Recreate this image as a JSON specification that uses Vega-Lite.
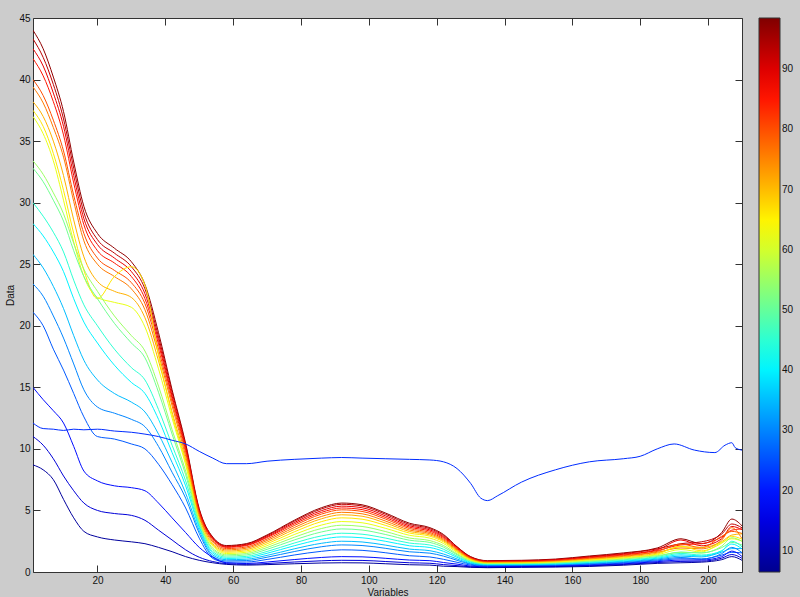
{
"$schema": "https://vega.github.io/schema/vega-lite/v6.json",
"width": 709, "height": 554,
"autosize": {"type": "none"},
"padding": {"left": 33, "top": 18, "right": 58, "bottom": 25},
"background": "#cccccc",
"view": {"fill": "white", "stroke": null},
"config": {
 "font": "Liberation Sans",
 "axis": {"grid": false, "domainColor": "#333333", "tickColor": "#333333", "tickSize": -7, "labelPadding": 10, "labelFontSize": 10, "labelColor": "#111111", "titleFontSize": 10, "titleFontWeight": "normal", "titleColor": "#111111"}
},
"data": {"values": [
{"v":97,"x":1,"y":44.0},{"v":97,"x":4,"y":42.5},{"v":97,"x":7,"y":40.2},{"v":97,"x":10,"y":37.4},{"v":97,"x":13,"y":33.3},{"v":97,"x":16,"y":29.7},{"v":97,"x":20,"y":27.5},{"v":97,"x":25,"y":26.3},{"v":97,"x":30,"y":25.2},{"v":97,"x":34,"y":23.35},{"v":97,"x":38,"y":19.44},{"v":97,"x":42,"y":14.8},{"v":97,"x":46,"y":10.45},{"v":97,"x":50,"y":5.15},{"v":97,"x":54,"y":2.84},{"v":97,"x":58,"y":2.15},{"v":97,"x":64,"y":2.31},{"v":97,"x":70,"y":3.01},{"v":97,"x":78,"y":4.2},{"v":97,"x":86,"y":5.22},{"v":97,"x":92,"y":5.6},{"v":97,"x":98,"y":5.46},{"v":97,"x":105,"y":4.78},{"v":97,"x":112,"y":3.96},{"v":97,"x":118,"y":3.6},{"v":97,"x":122,"y":3.05},{"v":97,"x":126,"y":2.05},{"v":97,"x":130,"y":1.25},{"v":97,"x":135,"y":0.92},{"v":97,"x":145,"y":0.95},{"v":97,"x":155,"y":1.05},{"v":97,"x":165,"y":1.3},{"v":97,"x":175,"y":1.55},{"v":97,"x":185,"y":1.95},{"v":97,"x":192,"y":2.7},{"v":97,"x":198,"y":2.3},{"v":97,"x":204,"y":3.2},{"v":97,"x":207,"y":4.3},{"v":97,"x":210,"y":3.75},
{"v":93,"x":1,"y":43.3},{"v":93,"x":4,"y":41.8},{"v":93,"x":7,"y":39.6},{"v":93,"x":10,"y":36.8},{"v":93,"x":13,"y":32.8},{"v":93,"x":16,"y":29.2},{"v":93,"x":20,"y":27.0},{"v":93,"x":25,"y":25.9},{"v":93,"x":30,"y":24.8},{"v":93,"x":34,"y":23.0},{"v":93,"x":38,"y":19.1},{"v":93,"x":42,"y":14.6},{"v":93,"x":46,"y":10.3},{"v":93,"x":50,"y":5.05},{"v":93,"x":54,"y":2.78},{"v":93,"x":58,"y":2.1},{"v":93,"x":64,"y":2.26},{"v":93,"x":70,"y":2.95},{"v":93,"x":78,"y":4.12},{"v":93,"x":86,"y":5.12},{"v":93,"x":92,"y":5.5},{"v":93,"x":98,"y":5.36},{"v":93,"x":105,"y":4.68},{"v":93,"x":112,"y":3.86},{"v":93,"x":118,"y":3.52},{"v":93,"x":122,"y":2.97},{"v":93,"x":126,"y":2.04},{"v":93,"x":130,"y":1.22},{"v":93,"x":135,"y":0.89},{"v":93,"x":145,"y":0.92},{"v":93,"x":155,"y":1.01},{"v":93,"x":165,"y":1.25},{"v":93,"x":175,"y":1.49},{"v":93,"x":185,"y":1.88},{"v":93,"x":192,"y":2.3},{"v":93,"x":198,"y":2.45},{"v":93,"x":204,"y":3.08},{"v":93,"x":207,"y":3.9},{"v":93,"x":210,"y":3.59},
{"v":89,"x":1,"y":42.5},{"v":89,"x":4,"y":41.1},{"v":89,"x":7,"y":38.9},{"v":89,"x":10,"y":36.2},{"v":89,"x":13,"y":32.2},{"v":89,"x":16,"y":28.7},{"v":89,"x":20,"y":26.6},{"v":89,"x":25,"y":25.5},{"v":89,"x":30,"y":24.4},{"v":89,"x":34,"y":22.6},{"v":89,"x":38,"y":18.8},{"v":89,"x":42,"y":14.3},{"v":89,"x":46,"y":10.1},{"v":89,"x":50,"y":4.96},{"v":89,"x":54,"y":2.72},{"v":89,"x":58,"y":2.05},{"v":89,"x":64,"y":2.2},{"v":89,"x":70,"y":2.87},{"v":89,"x":78,"y":4.01},{"v":89,"x":86,"y":4.98},{"v":89,"x":92,"y":5.35},{"v":89,"x":98,"y":5.22},{"v":89,"x":105,"y":4.55},{"v":89,"x":112,"y":3.75},{"v":89,"x":118,"y":3.42},{"v":89,"x":122,"y":2.88},{"v":89,"x":126,"y":1.98},{"v":89,"x":130,"y":1.18},{"v":89,"x":135,"y":0.86},{"v":89,"x":145,"y":0.89},{"v":89,"x":155,"y":0.98},{"v":89,"x":165,"y":1.21},{"v":89,"x":175,"y":1.44},{"v":89,"x":185,"y":1.81},{"v":89,"x":192,"y":2.6},{"v":89,"x":198,"y":2.13},{"v":89,"x":204,"y":2.7},{"v":89,"x":207,"y":3.7},{"v":89,"x":210,"y":3.44},
{"v":85,"x":1,"y":41.7},{"v":85,"x":4,"y":40.3},{"v":85,"x":7,"y":38.2},{"v":85,"x":10,"y":35.5},{"v":85,"x":13,"y":31.6},{"v":85,"x":16,"y":28.2},{"v":85,"x":20,"y":26.1},{"v":85,"x":25,"y":25.1},{"v":85,"x":30,"y":24.0},{"v":85,"x":34,"y":22.2},{"v":85,"x":38,"y":18.5},{"v":85,"x":42,"y":14.1},{"v":85,"x":46,"y":9.9},{"v":85,"x":50,"y":4.86},{"v":85,"x":54,"y":2.66},{"v":85,"x":58,"y":2.0},{"v":85,"x":64,"y":2.15},{"v":85,"x":70,"y":2.8},{"v":85,"x":78,"y":3.9},{"v":85,"x":86,"y":4.84},{"v":85,"x":92,"y":5.2},{"v":85,"x":98,"y":5.07},{"v":85,"x":105,"y":4.42},{"v":85,"x":112,"y":3.64},{"v":85,"x":118,"y":3.32},{"v":85,"x":122,"y":2.8},{"v":85,"x":126,"y":1.92},{"v":85,"x":130,"y":1.14},{"v":85,"x":135,"y":0.83},{"v":85,"x":145,"y":0.85},{"v":85,"x":155,"y":0.94},{"v":85,"x":165,"y":1.16},{"v":85,"x":175,"y":1.38},{"v":85,"x":185,"y":1.74},{"v":85,"x":192,"y":2.2},{"v":85,"x":198,"y":2.3},{"v":85,"x":204,"y":2.83},{"v":85,"x":207,"y":3.4},{"v":85,"x":210,"y":3.5},
{"v":80,"x":1,"y":40.0},{"v":80,"x":4,"y":38.7},{"v":80,"x":7,"y":36.7},{"v":80,"x":10,"y":34.2},{"v":80,"x":13,"y":30.6},{"v":80,"x":16,"y":27.5},{"v":80,"x":20,"y":25.5},{"v":80,"x":25,"y":24.5},{"v":80,"x":30,"y":23.5},{"v":80,"x":34,"y":21.8},{"v":80,"x":38,"y":18.1},{"v":80,"x":42,"y":13.8},{"v":80,"x":46,"y":9.7},{"v":80,"x":50,"y":4.7},{"v":80,"x":54,"y":2.55},{"v":80,"x":58,"y":1.9},{"v":80,"x":64,"y":2.04},{"v":80,"x":70,"y":2.68},{"v":80,"x":78,"y":3.77},{"v":80,"x":86,"y":4.7},{"v":80,"x":92,"y":5.05},{"v":80,"x":98,"y":4.92},{"v":80,"x":105,"y":4.29},{"v":80,"x":112,"y":3.53},{"v":80,"x":118,"y":3.21},{"v":80,"x":122,"y":2.71},{"v":80,"x":126,"y":1.86},{"v":80,"x":130,"y":1.11},{"v":80,"x":135,"y":0.8},{"v":80,"x":145,"y":0.82},{"v":80,"x":155,"y":0.91},{"v":80,"x":165,"y":1.11},{"v":80,"x":175,"y":1.33},{"v":80,"x":185,"y":1.67},{"v":80,"x":192,"y":2.27},{"v":80,"x":198,"y":1.97},{"v":80,"x":204,"y":2.9},{"v":80,"x":207,"y":3.3},{"v":80,"x":210,"y":3.13},
{"v":76,"x":1,"y":39.4},{"v":76,"x":4,"y":38.1},{"v":76,"x":7,"y":36.1},{"v":76,"x":10,"y":33.7},{"v":76,"x":13,"y":30.1},{"v":76,"x":16,"y":26.9},{"v":76,"x":20,"y":25.0},{"v":76,"x":25,"y":24.0},{"v":76,"x":30,"y":23.0},{"v":76,"x":34,"y":21.3},{"v":76,"x":38,"y":17.7},{"v":76,"x":42,"y":13.5},{"v":76,"x":46,"y":9.4},{"v":76,"x":50,"y":4.56},{"v":76,"x":54,"y":2.44},{"v":76,"x":58,"y":1.8},{"v":76,"x":64,"y":1.94},{"v":76,"x":70,"y":2.56},{"v":76,"x":78,"y":3.61},{"v":76,"x":86,"y":4.51},{"v":76,"x":92,"y":4.85},{"v":76,"x":98,"y":4.73},{"v":76,"x":105,"y":4.13},{"v":76,"x":112,"y":3.41},{"v":76,"x":118,"y":3.11},{"v":76,"x":122,"y":2.62},{"v":76,"x":126,"y":1.8},{"v":76,"x":130,"y":1.07},{"v":76,"x":135,"y":0.77},{"v":76,"x":145,"y":0.79},{"v":76,"x":155,"y":0.87},{"v":76,"x":165,"y":1.06},{"v":76,"x":175,"y":1.27},{"v":76,"x":185,"y":1.6},{"v":76,"x":192,"y":1.95},{"v":76,"x":198,"y":1.88},{"v":76,"x":204,"y":2.59},{"v":76,"x":207,"y":3.6},{"v":76,"x":210,"y":2.7},
{"v":71,"x":1,"y":38.2},{"v":71,"x":4,"y":37.0},{"v":71,"x":7,"y":35.0},{"v":71,"x":10,"y":32.2},{"v":71,"x":13,"y":28.6},{"v":71,"x":16,"y":25.6},{"v":71,"x":20,"y":23.6},{"v":71,"x":25,"y":22.8},{"v":71,"x":30,"y":22.3},{"v":71,"x":34,"y":20.65},{"v":71,"x":38,"y":17.15},{"v":71,"x":42,"y":13.0},{"v":71,"x":46,"y":9.1},{"v":71,"x":50,"y":4.4},{"v":71,"x":54,"y":2.3},{"v":71,"x":58,"y":1.7},{"v":71,"x":64,"y":1.83},{"v":71,"x":70,"y":2.43},{"v":71,"x":78,"y":3.45},{"v":71,"x":86,"y":4.32},{"v":71,"x":92,"y":4.65},{"v":71,"x":98,"y":4.53},{"v":71,"x":105,"y":3.97},{"v":71,"x":112,"y":3.29},{"v":71,"x":118,"y":3.01},{"v":71,"x":122,"y":2.54},{"v":71,"x":126,"y":1.73},{"v":71,"x":130,"y":1.03},{"v":71,"x":135,"y":0.74},{"v":71,"x":145,"y":0.76},{"v":71,"x":155,"y":0.83},{"v":71,"x":165,"y":1.02},{"v":71,"x":175,"y":1.22},{"v":71,"x":185,"y":1.53},{"v":71,"x":192,"y":2.05},{"v":71,"x":198,"y":2.0},{"v":71,"x":204,"y":2.47},{"v":71,"x":207,"y":3.0},{"v":71,"x":210,"y":3.1},
{"v":66,"x":1,"y":37.5},{"v":66,"x":4,"y":36.2},{"v":66,"x":7,"y":34.0},{"v":66,"x":10,"y":31.0},{"v":66,"x":13,"y":27.5},{"v":66,"x":16,"y":24.5},{"v":66,"x":20,"y":22.2},{"v":66,"x":25,"y":24.0},{"v":66,"x":30,"y":24.8},{"v":66,"x":34,"y":23.3},{"v":66,"x":38,"y":17.6},{"v":66,"x":42,"y":12.8},{"v":66,"x":46,"y":8.9},{"v":66,"x":50,"y":4.2},{"v":66,"x":54,"y":2.2},{"v":66,"x":58,"y":1.6},{"v":66,"x":64,"y":1.72},{"v":66,"x":70,"y":2.29},{"v":66,"x":78,"y":3.26},{"v":66,"x":86,"y":4.09},{"v":66,"x":92,"y":4.4},{"v":66,"x":98,"y":4.29},{"v":66,"x":105,"y":3.78},{"v":66,"x":112,"y":3.16},{"v":66,"x":118,"y":2.91},{"v":66,"x":122,"y":2.45},{"v":66,"x":126,"y":1.67},{"v":66,"x":130,"y":0.99},{"v":66,"x":135,"y":0.71},{"v":66,"x":145,"y":0.73},{"v":66,"x":155,"y":0.8},{"v":66,"x":165,"y":0.97},{"v":66,"x":175,"y":1.16},{"v":66,"x":185,"y":1.46},{"v":66,"x":192,"y":2.1},{"v":66,"x":198,"y":1.72},{"v":66,"x":204,"y":2.34},{"v":66,"x":207,"y":2.9},{"v":66,"x":210,"y":2.66},
{"v":62,"x":1,"y":37.0},{"v":62,"x":4,"y":35.6},{"v":62,"x":7,"y":33.4},{"v":62,"x":10,"y":30.2},{"v":62,"x":13,"y":26.8},{"v":62,"x":16,"y":24.0},{"v":62,"x":20,"y":22.3},{"v":62,"x":25,"y":21.9},{"v":62,"x":30,"y":21.5},{"v":62,"x":34,"y":19.9},{"v":62,"x":38,"y":16.5},{"v":62,"x":42,"y":12.5},{"v":62,"x":46,"y":8.7},{"v":62,"x":50,"y":4.1},{"v":62,"x":54,"y":2.1},{"v":62,"x":58,"y":1.5},{"v":62,"x":64,"y":1.61},{"v":62,"x":70,"y":2.14},{"v":62,"x":78,"y":3.04},{"v":62,"x":86,"y":3.81},{"v":62,"x":92,"y":4.1},{"v":62,"x":98,"y":4.0},{"v":62,"x":105,"y":3.54},{"v":62,"x":112,"y":2.98},{"v":62,"x":118,"y":2.75},{"v":62,"x":122,"y":2.32},{"v":62,"x":126,"y":1.59},{"v":62,"x":130,"y":0.94},{"v":62,"x":135,"y":0.68},{"v":62,"x":145,"y":0.7},{"v":62,"x":155,"y":0.76},{"v":62,"x":165,"y":0.92},{"v":62,"x":175,"y":1.11},{"v":62,"x":185,"y":1.4},{"v":62,"x":192,"y":1.83},{"v":62,"x":198,"y":1.63},{"v":62,"x":204,"y":2.4},{"v":62,"x":207,"y":2.7},{"v":62,"x":210,"y":2.51},
{"v":55,"x":1,"y":33.4},{"v":55,"x":4,"y":32.3},{"v":55,"x":7,"y":30.8},{"v":55,"x":10,"y":29.1},{"v":55,"x":13,"y":26.7},{"v":55,"x":16,"y":24.6},{"v":55,"x":20,"y":22.8},{"v":55,"x":25,"y":20.8},{"v":55,"x":30,"y":19.2},{"v":55,"x":34,"y":17.95},{"v":55,"x":38,"y":15.1},{"v":55,"x":42,"y":11.55},{"v":55,"x":46,"y":8.2},{"v":55,"x":50,"y":4.1},{"v":55,"x":54,"y":1.93},{"v":55,"x":58,"y":1.4},{"v":55,"x":64,"y":1.5},{"v":55,"x":70,"y":1.99},{"v":55,"x":78,"y":2.82},{"v":55,"x":86,"y":3.53},{"v":55,"x":92,"y":3.8},{"v":55,"x":98,"y":3.7},{"v":55,"x":105,"y":3.28},{"v":55,"x":112,"y":2.76},{"v":55,"x":118,"y":2.55},{"v":55,"x":122,"y":2.15},{"v":55,"x":126,"y":1.48},{"v":55,"x":130,"y":0.89},{"v":55,"x":135,"y":0.65},{"v":55,"x":145,"y":0.67},{"v":55,"x":155,"y":0.73},{"v":55,"x":165,"y":0.88},{"v":55,"x":175,"y":1.05},{"v":55,"x":185,"y":1.33},{"v":55,"x":192,"y":1.6},{"v":55,"x":198,"y":1.55},{"v":55,"x":204,"y":2.1},{"v":55,"x":207,"y":2.78},{"v":55,"x":210,"y":2.5},
{"v":51,"x":1,"y":32.8},{"v":51,"x":4,"y":31.7},{"v":51,"x":7,"y":30.2},{"v":51,"x":10,"y":28.5},{"v":51,"x":13,"y":26.1},{"v":51,"x":16,"y":24.0},{"v":51,"x":20,"y":22.2},{"v":51,"x":25,"y":20.2},{"v":51,"x":30,"y":18.6},{"v":51,"x":34,"y":17.4},{"v":51,"x":38,"y":14.6},{"v":51,"x":42,"y":11.2},{"v":51,"x":46,"y":7.9},{"v":51,"x":50,"y":3.9},{"v":51,"x":54,"y":1.82},{"v":51,"x":58,"y":1.3},{"v":51,"x":64,"y":1.39},{"v":51,"x":70,"y":1.84},{"v":51,"x":78,"y":2.6},{"v":51,"x":86,"y":3.25},{"v":51,"x":92,"y":3.5},{"v":51,"x":98,"y":3.41},{"v":51,"x":105,"y":3.04},{"v":51,"x":112,"y":2.58},{"v":51,"x":118,"y":2.4},{"v":51,"x":122,"y":2.02},{"v":51,"x":126,"y":1.4},{"v":51,"x":130,"y":0.84},{"v":51,"x":135,"y":0.62},{"v":51,"x":145,"y":0.63},{"v":51,"x":155,"y":0.69},{"v":51,"x":165,"y":0.83},{"v":51,"x":175,"y":0.99},{"v":51,"x":185,"y":1.26},{"v":51,"x":192,"y":1.62},{"v":51,"x":198,"y":1.55},{"v":51,"x":204,"y":1.98},{"v":51,"x":207,"y":2.4},{"v":51,"x":210,"y":2.19},
{"v":45,"x":1,"y":30.0},{"v":45,"x":4,"y":28.9},{"v":45,"x":7,"y":27.6},{"v":45,"x":10,"y":26.0},{"v":45,"x":13,"y":23.7},{"v":45,"x":16,"y":21.7},{"v":45,"x":20,"y":20.0},{"v":45,"x":25,"y":18.1},{"v":45,"x":30,"y":16.6},{"v":45,"x":34,"y":15.6},{"v":45,"x":38,"y":13.2},{"v":45,"x":42,"y":10.3},{"v":45,"x":46,"y":7.4},{"v":45,"x":50,"y":3.74},{"v":45,"x":54,"y":1.66},{"v":45,"x":58,"y":1.2},{"v":45,"x":64,"y":1.27},{"v":45,"x":70,"y":1.67},{"v":45,"x":78,"y":2.35},{"v":45,"x":86,"y":2.93},{"v":45,"x":92,"y":3.15},{"v":45,"x":98,"y":3.07},{"v":45,"x":105,"y":2.75},{"v":45,"x":112,"y":2.35},{"v":45,"x":118,"y":2.19},{"v":45,"x":122,"y":1.85},{"v":45,"x":126,"y":1.29},{"v":45,"x":130,"y":0.79},{"v":45,"x":135,"y":0.59},{"v":45,"x":145,"y":0.6},{"v":45,"x":155,"y":0.65},{"v":45,"x":165,"y":0.78},{"v":45,"x":175,"y":0.94},{"v":45,"x":185,"y":1.19},{"v":45,"x":192,"y":1.51},{"v":45,"x":198,"y":1.38},{"v":45,"x":204,"y":1.7},{"v":45,"x":207,"y":2.5},{"v":45,"x":210,"y":2.04},
{"v":40,"x":1,"y":28.3},{"v":40,"x":4,"y":27.3},{"v":40,"x":7,"y":26.0},{"v":40,"x":10,"y":24.4},{"v":40,"x":13,"y":22.2},{"v":40,"x":16,"y":20.3},{"v":40,"x":20,"y":18.6},{"v":40,"x":25,"y":16.8},{"v":40,"x":30,"y":15.4},{"v":40,"x":34,"y":14.5},{"v":40,"x":38,"y":12.4},{"v":40,"x":42,"y":9.7},{"v":40,"x":46,"y":7.0},{"v":40,"x":50,"y":3.6},{"v":40,"x":54,"y":1.53},{"v":40,"x":58,"y":1.1},{"v":40,"x":64,"y":1.16},{"v":40,"x":70,"y":1.52},{"v":40,"x":78,"y":2.13},{"v":40,"x":86,"y":2.65},{"v":40,"x":92,"y":2.85},{"v":40,"x":98,"y":2.78},{"v":40,"x":105,"y":2.49},{"v":40,"x":112,"y":2.13},{"v":40,"x":118,"y":1.99},{"v":40,"x":122,"y":1.68},{"v":40,"x":126,"y":1.19},{"v":40,"x":130,"y":0.74},{"v":40,"x":135,"y":0.56},{"v":40,"x":145,"y":0.57},{"v":40,"x":155,"y":0.62},{"v":40,"x":165,"y":0.73},{"v":40,"x":175,"y":0.88},{"v":40,"x":185,"y":1.12},{"v":40,"x":192,"y":1.4},{"v":40,"x":198,"y":1.3},{"v":40,"x":204,"y":1.73},{"v":40,"x":207,"y":2.27},{"v":40,"x":210,"y":1.88},
{"v":35,"x":1,"y":25.8},{"v":35,"x":4,"y":24.7},{"v":35,"x":7,"y":23.2},{"v":35,"x":10,"y":21.4},{"v":35,"x":13,"y":19.2},{"v":35,"x":16,"y":17.2},{"v":35,"x":20,"y":15.6},{"v":35,"x":25,"y":14.5},{"v":35,"x":30,"y":13.8},{"v":35,"x":34,"y":13.0},{"v":35,"x":38,"y":11.2},{"v":35,"x":42,"y":8.9},{"v":35,"x":46,"y":6.4},{"v":35,"x":50,"y":3.37},{"v":35,"x":54,"y":1.38},{"v":35,"x":58,"y":1.0},{"v":35,"x":64,"y":1.04},{"v":35,"x":70,"y":1.35},{"v":35,"x":78,"y":1.88},{"v":35,"x":86,"y":2.33},{"v":35,"x":92,"y":2.5},{"v":35,"x":98,"y":2.44},{"v":35,"x":105,"y":2.18},{"v":35,"x":112,"y":1.86},{"v":35,"x":118,"y":1.73},{"v":35,"x":122,"y":1.46},{"v":35,"x":126,"y":1.06},{"v":35,"x":130,"y":0.68},{"v":35,"x":135,"y":0.53},{"v":35,"x":145,"y":0.54},{"v":35,"x":155,"y":0.58},{"v":35,"x":165,"y":0.69},{"v":35,"x":175,"y":0.83},{"v":35,"x":185,"y":1.05},{"v":35,"x":192,"y":1.29},{"v":35,"x":198,"y":1.22},{"v":35,"x":204,"y":1.61},{"v":35,"x":207,"y":1.9},{"v":35,"x":210,"y":1.9},
{"v":30,"x":1,"y":23.4},{"v":30,"x":4,"y":22.4},{"v":30,"x":7,"y":20.8},{"v":30,"x":10,"y":19.0},{"v":30,"x":13,"y":16.9},{"v":30,"x":16,"y":14.8},{"v":30,"x":20,"y":13.4},{"v":30,"x":25,"y":12.9},{"v":30,"x":30,"y":12.4},{"v":30,"x":34,"y":11.8},{"v":30,"x":38,"y":10.2},{"v":30,"x":42,"y":8.1},{"v":30,"x":46,"y":6.0},{"v":30,"x":50,"y":3.14},{"v":30,"x":54,"y":1.25},{"v":30,"x":58,"y":0.9},{"v":30,"x":64,"y":0.93},{"v":30,"x":70,"y":1.2},{"v":30,"x":78,"y":1.66},{"v":30,"x":86,"y":2.05},{"v":30,"x":92,"y":2.2},{"v":30,"x":98,"y":2.15},{"v":30,"x":105,"y":1.92},{"v":30,"x":112,"y":1.64},{"v":30,"x":118,"y":1.53},{"v":30,"x":122,"y":1.29},{"v":30,"x":126,"y":0.95},{"v":30,"x":130,"y":0.63},{"v":30,"x":135,"y":0.5},{"v":30,"x":145,"y":0.51},{"v":30,"x":155,"y":0.54},{"v":30,"x":165,"y":0.64},{"v":30,"x":175,"y":0.77},{"v":30,"x":185,"y":0.98},{"v":30,"x":192,"y":1.18},{"v":30,"x":198,"y":1.05},{"v":30,"x":204,"y":1.49},{"v":30,"x":207,"y":2.0},{"v":30,"x":210,"y":1.57},
{"v":26,"x":1,"y":21.1},{"v":26,"x":4,"y":20.0},{"v":26,"x":7,"y":18.1},{"v":26,"x":10,"y":16.4},{"v":26,"x":13,"y":14.5},{"v":26,"x":16,"y":12.6},{"v":26,"x":20,"y":11.0},{"v":26,"x":25,"y":10.8},{"v":26,"x":30,"y":10.4},{"v":26,"x":34,"y":10.0},{"v":26,"x":38,"y":8.75},{"v":26,"x":42,"y":7.1},{"v":26,"x":46,"y":5.2},{"v":26,"x":50,"y":2.75},{"v":26,"x":54,"y":1.1},{"v":26,"x":58,"y":0.8},{"v":26,"x":64,"y":0.81},{"v":26,"x":70,"y":1.02},{"v":26,"x":78,"y":1.38},{"v":26,"x":86,"y":1.68},{"v":26,"x":92,"y":1.8},{"v":26,"x":98,"y":1.76},{"v":26,"x":105,"y":1.56},{"v":26,"x":112,"y":1.32},{"v":26,"x":118,"y":1.22},{"v":26,"x":122,"y":1.03},{"v":26,"x":126,"y":0.79},{"v":26,"x":130,"y":0.56},{"v":26,"x":135,"y":0.46},{"v":26,"x":145,"y":0.48},{"v":26,"x":155,"y":0.51},{"v":26,"x":165,"y":0.59},{"v":26,"x":175,"y":0.72},{"v":26,"x":185,"y":0.91},{"v":26,"x":192,"y":1.08},{"v":26,"x":198,"y":1.05},{"v":26,"x":204,"y":1.37},{"v":26,"x":207,"y":1.6},{"v":26,"x":210,"y":1.55},
{"v":19,"x":1,"y":15.0},{"v":19,"x":4,"y":14.0},{"v":19,"x":7,"y":13.1},{"v":19,"x":10,"y":12.1},{"v":19,"x":13,"y":10.2},{"v":19,"x":16,"y":8.2},{"v":19,"x":20,"y":7.4},{"v":19,"x":25,"y":7.0},{"v":19,"x":30,"y":6.85},{"v":19,"x":34,"y":6.6},{"v":19,"x":38,"y":5.6},{"v":19,"x":42,"y":4.4},{"v":19,"x":46,"y":3.2},{"v":19,"x":50,"y":2.0},{"v":19,"x":54,"y":1.2},{"v":19,"x":58,"y":0.75},{"v":19,"x":64,"y":0.69},{"v":19,"x":70,"y":0.81},{"v":19,"x":78,"y":1.01},{"v":19,"x":86,"y":1.18},{"v":19,"x":92,"y":1.25},{"v":19,"x":98,"y":1.23},{"v":19,"x":105,"y":1.11},{"v":19,"x":112,"y":0.97},{"v":19,"x":118,"y":0.92},{"v":19,"x":122,"y":0.77},{"v":19,"x":126,"y":0.64},{"v":19,"x":130,"y":0.48},{"v":19,"x":135,"y":0.42},{"v":19,"x":145,"y":0.44},{"v":19,"x":155,"y":0.47},{"v":19,"x":165,"y":0.54},{"v":19,"x":175,"y":0.66},{"v":19,"x":185,"y":0.84},{"v":19,"x":192,"y":0.97},{"v":19,"x":198,"y":0.97},{"v":19,"x":204,"y":1.24},{"v":19,"x":207,"y":1.7},{"v":19,"x":210,"y":1.26},
{"v":14,"x":1,"y":11.0},{"v":14,"x":4,"y":10.3},{"v":14,"x":7,"y":9.2},{"v":14,"x":10,"y":7.8},{"v":14,"x":13,"y":6.6},{"v":14,"x":16,"y":5.6},{"v":14,"x":20,"y":5.0},{"v":14,"x":25,"y":4.75},{"v":14,"x":30,"y":4.6},{"v":14,"x":34,"y":4.2},{"v":14,"x":38,"y":3.4},{"v":14,"x":42,"y":2.6},{"v":14,"x":46,"y":1.8},{"v":14,"x":50,"y":1.2},{"v":14,"x":54,"y":0.85},{"v":14,"x":58,"y":0.68},{"v":14,"x":64,"y":0.62},{"v":14,"x":70,"y":0.69},{"v":14,"x":78,"y":0.81},{"v":14,"x":86,"y":0.91},{"v":14,"x":92,"y":0.95},{"v":14,"x":98,"y":0.94},{"v":14,"x":105,"y":0.85},{"v":14,"x":112,"y":0.75},{"v":14,"x":118,"y":0.71},{"v":14,"x":122,"y":0.6},{"v":14,"x":126,"y":0.52},{"v":14,"x":130,"y":0.42},{"v":14,"x":135,"y":0.38},{"v":14,"x":145,"y":0.41},{"v":14,"x":155,"y":0.44},{"v":14,"x":165,"y":0.5},{"v":14,"x":175,"y":0.61},{"v":14,"x":185,"y":0.77},{"v":14,"x":192,"y":0.86},{"v":14,"x":198,"y":0.88},{"v":14,"x":204,"y":1.12},{"v":14,"x":207,"y":1.42},{"v":14,"x":210,"y":1.11},
{"v":8,"x":1,"y":8.7},{"v":8,"x":4,"y":8.3},{"v":8,"x":7,"y":7.5},{"v":8,"x":10,"y":5.9},{"v":8,"x":13,"y":4.4},{"v":8,"x":16,"y":3.3},{"v":8,"x":20,"y":2.85},{"v":8,"x":25,"y":2.6},{"v":8,"x":30,"y":2.45},{"v":8,"x":34,"y":2.3},{"v":8,"x":38,"y":2.0},{"v":8,"x":42,"y":1.65},{"v":8,"x":46,"y":1.25},{"v":8,"x":50,"y":0.95},{"v":8,"x":54,"y":0.75},{"v":8,"x":58,"y":0.62},{"v":8,"x":64,"y":0.56},{"v":8,"x":70,"y":0.6},{"v":8,"x":78,"y":0.67},{"v":8,"x":86,"y":0.73},{"v":8,"x":92,"y":0.75},{"v":8,"x":98,"y":0.74},{"v":8,"x":105,"y":0.67},{"v":8,"x":112,"y":0.59},{"v":8,"x":118,"y":0.56},{"v":8,"x":122,"y":0.47},{"v":8,"x":126,"y":0.44},{"v":8,"x":130,"y":0.38},{"v":8,"x":135,"y":0.35},{"v":8,"x":145,"y":0.38},{"v":8,"x":155,"y":0.4},{"v":8,"x":165,"y":0.45},{"v":8,"x":175,"y":0.55},{"v":8,"x":185,"y":0.7},{"v":8,"x":192,"y":0.75},{"v":8,"x":198,"y":0.8},{"v":8,"x":204,"y":1.0},{"v":8,"x":207,"y":1.25},{"v":8,"x":210,"y":0.95},
{"v":22,"x":1,"y":12.1},{"v":22,"x":4,"y":11.65},{"v":22,"x":7,"y":11.6},{"v":22,"x":10,"y":11.5},{"v":22,"x":13,"y":11.6},{"v":22,"x":16,"y":11.55},{"v":22,"x":20,"y":11.6},{"v":22,"x":25,"y":11.45},{"v":22,"x":30,"y":11.35},{"v":22,"x":34,"y":11.2},{"v":22,"x":38,"y":11.0},{"v":22,"x":42,"y":10.7},{"v":22,"x":46,"y":10.4},{"v":22,"x":50,"y":9.8},{"v":22,"x":54,"y":9.25},{"v":22,"x":58,"y":8.8},{"v":22,"x":64,"y":8.8},{"v":22,"x":70,"y":9.0},{"v":22,"x":78,"y":9.15},{"v":22,"x":86,"y":9.25},{"v":22,"x":92,"y":9.3},{"v":22,"x":98,"y":9.25},{"v":22,"x":105,"y":9.2},{"v":22,"x":112,"y":9.15},{"v":22,"x":118,"y":9.1},{"v":22,"x":122,"y":8.95},{"v":22,"x":126,"y":8.4},{"v":22,"x":130,"y":7.2},{"v":22,"x":133,"y":6.0},{"v":22,"x":135,"y":5.8},{"v":22,"x":138,"y":6.2},{"v":22,"x":145,"y":7.3},{"v":22,"x":155,"y":8.3},{"v":22,"x":165,"y":8.95},{"v":22,"x":175,"y":9.2},{"v":22,"x":180,"y":9.4},{"v":22,"x":185,"y":10.0},{"v":22,"x":190,"y":10.4},{"v":22,"x":196,"y":9.9},{"v":22,"x":202,"y":9.7},{"v":22,"x":205,"y":10.3},{"v":22,"x":207,"y":10.5},{"v":22,"x":208,"y":10.1},{"v":22,"x":210,"y":9.9}
]},
"layer": [
 {"mark": {"type": "line", "strokeWidth": 1, "clip": true, "interpolate": "monotone"},
  "encoding": {
   "x": {"field": "x", "type": "quantitative", "scale": {"domain": [1, 210], "nice": false, "zero": false},
         "axis": {"orient": "bottom", "values": [20,40,60,80,100,120,140,160,180,200], "title": "Variables", "titlePadding": 2}},
   "y": {"field": "y", "type": "quantitative", "scale": {"domain": [0, 45], "nice": false},
         "axis": {"orient": "left", "values": [0,5,10,15,20,25,30,35,40,45], "title": "Data", "titlePadding": 3}},
   "color": {"field": "v", "type": "quantitative",
     "scale": {"domain": [6.5, 18, 41, 64, 87, 98.5], "range": ["#00008f", "#0000ff", "#00ffff", "#ffff00", "#ff0000", "#800000"], "interpolate": "rgb"},
     "legend": {"orient": "none", "legendX": 726, "legendY": 0, "direction": "vertical", "title": null, "gradientLength": 554, "gradientThickness": 21, "gradientStrokeColor": "#333333", "gradientStrokeWidth": 1, "values": [10,20,30,40,50,60,70,80,90], "labelFontSize": 10, "labelColor": "#111111", "labelOffset": 2, "labelFlush": false, "labelOverlap": false}}
  }},
 {"mark": {"type": "line", "opacity": 0},
  "encoding": {
   "x": {"field": "x", "type": "quantitative", "axis": {"orient": "top", "values": [20,40,60,80,100,120,140,160,180,200], "labels": false, "title": null}},
   "y": {"field": "y", "type": "quantitative", "axis": {"orient": "right", "values": [0,5,10,15,20,25,30,35,40,45], "labels": false, "title": null}}
  }}
],
"resolve": {"axis": {"x": "independent", "y": "independent"}}
}
